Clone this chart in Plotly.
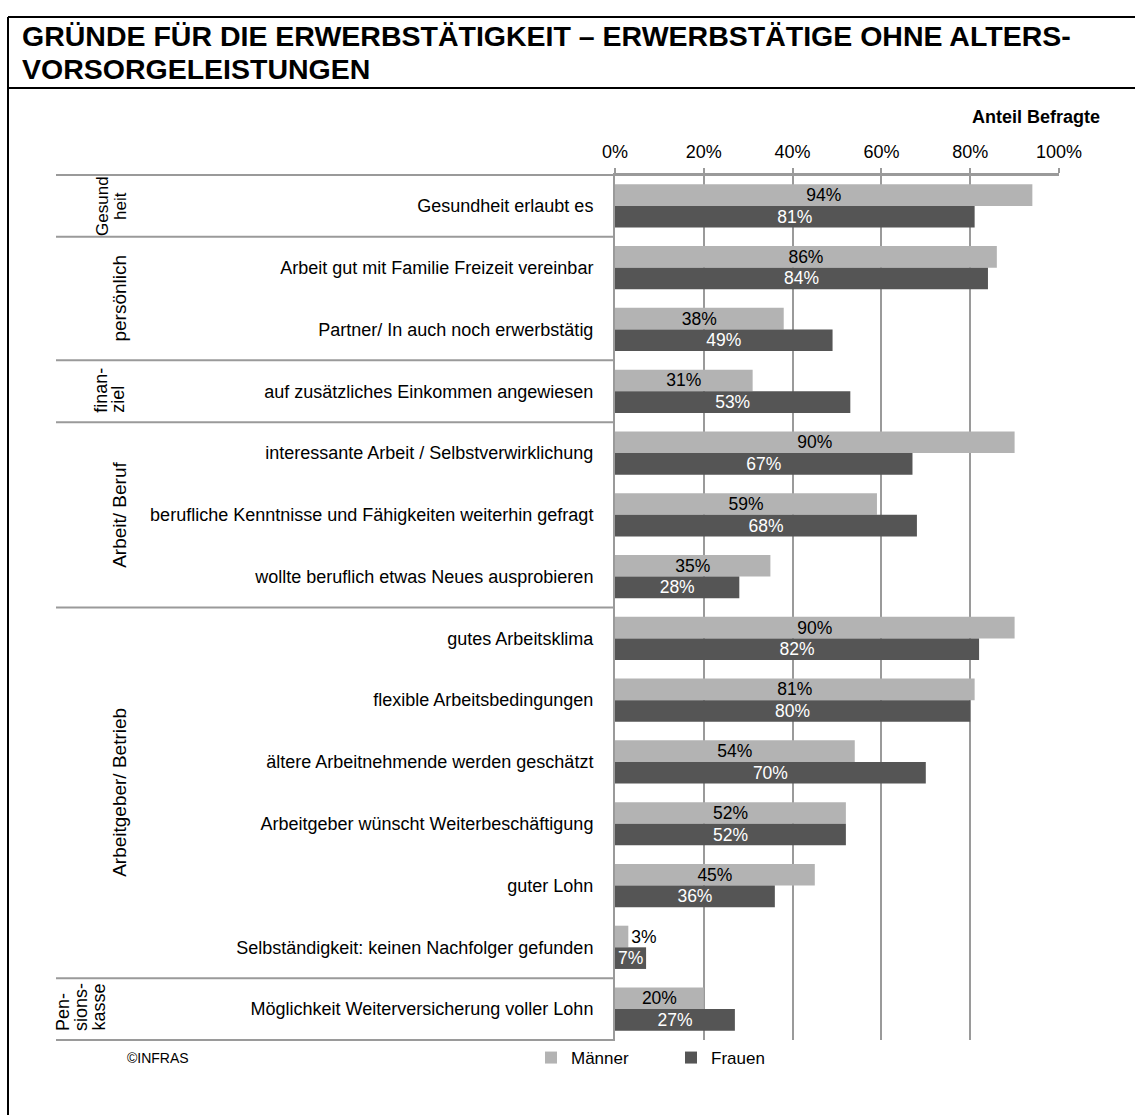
import plotly.graph_objects as go

# Survey results: reasons for continued employment (share of respondents, %)
categories = [
    "Gesundheit erlaubt es",
    "Arbeit gut mit Familie Freizeit vereinbar",
    "Partner/ In auch noch erwerbstätig",
    "auf zusätzliches Einkommen angewiesen",
    "interessante Arbeit / Selbstverwirklichung",
    "berufliche Kenntnisse und Fähigkeiten weiterhin gefragt",
    "wollte beruflich etwas Neues ausprobieren",
    "gutes Arbeitsklima",
    "flexible Arbeitsbedingungen",
    "ältere Arbeitnehmende werden geschätzt",
    "Arbeitgeber wünscht Weiterbeschäftigung",
    "guter Lohn",
    "Selbständigkeit: keinen Nachfolger gefunden",
    "Möglichkeit Weiterversicherung voller Lohn",
]
maenner = [94, 86, 38, 31, 90, 59, 35, 90, 81, 54, 52, 45, 3, 20]
frauen = [81, 84, 49, 53, 67, 68, 28, 82, 80, 70, 52, 36, 7, 27]

# Thematic groups: label lines and number of categories per group
group_lines = [["Gesund", "heit"], ["persönlich"], ["finan-", "ziel"], ["Arbeit/ Beruf"],
               ["Arbeitgeber/ Betrieb"], ["Pen-", "sions-", "kasse"]]
group_sizes = [1, 2, 1, 3, 6, 1]

title_lines = ["GRÜNDE FÜR DIE ERWERBSTÄTIGKEIT – ERWERBSTÄTIGE OHNE ALTERS-",
               "VORSORGELEISTUNGEN"]

x_ticks = [0, 20, 40, 60, 80, 100]

W, H = 1135, 1115
L, R, T, B = 615, 1059, 175, 1040
FONT = "Liberation Sans, Arial, sans-serif"
GRID = "#9a9a9a"
C_M = "#b3b3b3"
C_F = "#555555"

# label column layout: (x of first line, line spacing, font size, bottom-aligned)
group_style = [(103, 18, 17, False), (120, 0, 19, False), (101, 17, 18, True),
               (120, 0, 19, False), (120, 0, 19, False), (63, 18, 18, True)]


def px(xp):
    return (xp - L) / (R - L)


def py(yp):
    return (B - yp) / (B - T)


fig = go.Figure()
fig.add_trace(go.Bar(
    name="Männer", y=categories, x=maenner, orientation="h",
    marker=dict(color=C_M, line=dict(width=0)),
    text=[f"{v}%" for v in maenner],
    textposition=["outside" if v < 5 else "inside" for v in maenner],
    insidetextanchor="middle", textangle=0, constraintext="none",
    insidetextfont=dict(color="#000000", size=17.5, family=FONT),
    outsidetextfont=dict(color="#000000", size=17.5, family=FONT),
    cliponaxis=False,
))
fig.add_trace(go.Bar(
    name="Frauen", y=categories, x=frauen, orientation="h",
    marker=dict(color=C_F, line=dict(width=0)),
    text=[f"{v}%" for v in frauen],
    textposition="inside",
    insidetextanchor="middle", textangle=0, constraintext="none",
    insidetextfont=dict(color="#ffffff", size=17.5, family=FONT),
    cliponaxis=False,
))

shapes = []
annotations = []

# Group separators and rotated group labels
n = len(categories)
row_px = (B - T) / n
start = 0
bounds = [0]
for lines, size, (gx, dx, fs, bottom) in zip(group_lines, group_sizes, group_style):
    end = start + size
    bounds.append(end)
    yc = T + row_px * (start + end) / 2
    for k, line in enumerate(lines):
        annotations.append(dict(
            text=line, x=px(gx + k * dx), y=py(yc + 24 if bottom else yc),
            xref="paper", yref="paper", textangle=-90, showarrow=False,
            font=dict(size=fs, family=FONT, color="#000000"),
            xanchor="center", yanchor="bottom" if bottom else "middle"))
    start = end
for b in bounds:
    yb = T + row_px * b
    x1 = R if b == 0 else L
    shapes.append(dict(type="line", xref="paper", yref="paper",
                       x0=px(56), x1=px(x1), y0=py(yb), y1=py(yb),
                       line=dict(color=GRID, width=2)))

# Outer frame and title separator
shapes.append(dict(type="line", xref="paper", yref="paper",
                   x0=px(8), x1=px(W + 5), y0=py(17), y1=py(17),
                   line=dict(color="#000000", width=2)))
shapes.append(dict(type="line", xref="paper", yref="paper",
                   x0=px(8), x1=px(W + 5), y0=py(88), y1=py(88),
                   line=dict(color="#000000", width=2)))
shapes.append(dict(type="line", xref="paper", yref="paper",
                   x0=px(8), x1=px(8), y0=py(17), y1=py(H + 5),
                   line=dict(color="#000000", width=2)))

for k, line in enumerate(title_lines):
    annotations.append(dict(
        text=f"<b>{line}</b>", x=px(20), y=py(36 + 33 * k), xref="paper", yref="paper",
        showarrow=False, xanchor="left", yanchor="middle",
        font=dict(size=28.5, family=FONT, color="#000000")))
annotations.append(dict(
    text="<b>Anteil Befragte</b>", x=px(1102), y=py(117), xref="paper", yref="paper",
    showarrow=False, xanchor="right", yanchor="middle",
    font=dict(size=18, family=FONT, color="#000000")))
annotations.append(dict(
    text="©INFRAS", x=px(125), y=py(1058), xref="paper", yref="paper",
    showarrow=False, xanchor="left", yanchor="middle",
    font=dict(size=14, family=FONT, color="#000000")))

fig.update_layout(
    width=W, height=H,
    margin=dict(l=L, r=W - R, t=T, b=H - B, pad=0),
    paper_bgcolor="white", plot_bgcolor="white",
    barmode="group", bargap=0.3, bargroupgap=0,
    font=dict(family=FONT, size=18, color="#000000"),
    shapes=shapes, annotations=annotations,
    showlegend=True,
    legend=dict(orientation="h", x=px(531), y=py(1058), xanchor="left", yanchor="middle",
                font=dict(size=17, family=FONT), entrywidth=95, entrywidthmode="pixels",
                traceorder="normal", bgcolor="rgba(0,0,0,0)"),
    xaxis=dict(side="top", range=[0, 100], tickvals=x_ticks,
               ticktext=[f"{v}%" for v in x_ticks],
               showgrid=True, gridcolor=GRID, gridwidth=2,
               ticks="outside", ticklen=5, tickcolor=GRID, tickwidth=2,
               showline=True, linecolor=GRID, linewidth=2,
               zeroline=False, tickfont=dict(size=18), ticklabelstandoff=3,
               fixedrange=True),
    yaxis=dict(autorange="reversed", showgrid=False, zeroline=False,
               showline=True, linecolor=GRID, linewidth=2,
               ticks="", ticklabelstandoff=16, tickfont=dict(size=18),
               fixedrange=True),
)

fig.write_html("out.html")
